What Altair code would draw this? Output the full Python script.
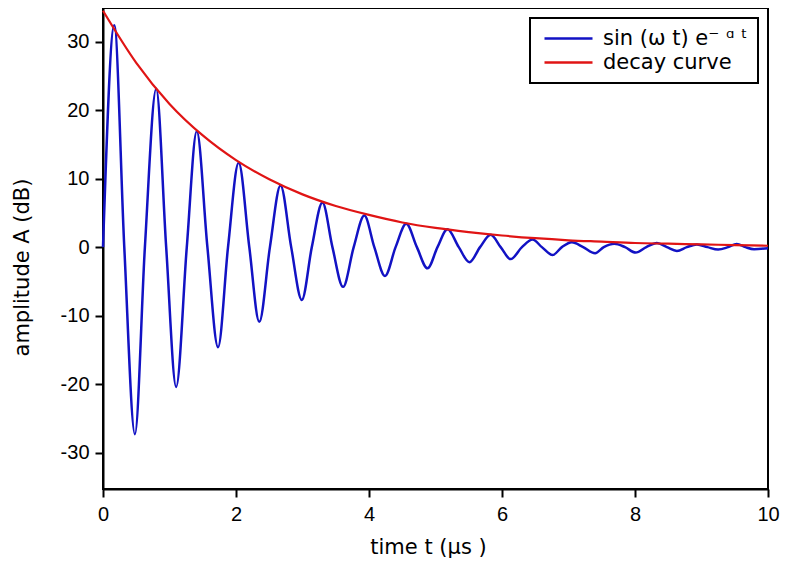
import altair as alt
import pandas as pd

# damped signal: zero crossings and extrema
t_sig = [0.00, 0.17, 0.32, 0.48, 0.63, 0.80, 0.95, 1.10, 1.26, 1.41, 1.57, 1.73,
         1.88, 2.04, 2.20, 2.35, 2.51, 2.67, 2.83, 2.99, 3.14, 3.30, 3.45, 3.61,
         3.77, 3.93, 4.08, 4.24, 4.40, 4.56, 4.72, 4.88, 5.03, 5.18, 5.35, 5.51,
         5.67, 5.83, 5.98, 6.13, 6.30, 6.46, 6.60, 6.76, 6.90, 7.05, 7.22, 7.40,
         7.53, 7.69, 7.85, 8.01, 8.17, 8.33, 8.48, 8.63, 8.78, 8.93, 9.09, 9.25,
         9.40, 9.53, 9.66, 9.79, 10.00]
amp_sig = [0, 32.4, 0, -27.3, 0, 23.1, 0, -20.4, 0, 16.9, 0, -14.6,
           0, 12.3, 0, -10.9, 0, 9.0, 0, -7.7, 0, 6.5, 0, -5.8,
           0, 4.6, 0, -4.2, 0, 3.4, 0, -3.1, 0, 2.6, 0, -2.2,
           0, 1.8, 0, -1.75, 0, 1.1, 0, -1.15, 0, 0.7, 0, -0.9,
           0, 0.5, 0, -0.8, 0, 0.6, 0, -0.55, 0, 0.4, 0, -0.36,
           0, 0.46, 0, -0.3, -0.15]

# envelope
t_decay = [0, 0.5, 1, 1.5, 2, 2.5, 3, 3.5, 4, 4.5, 5, 5.5, 6, 6.5, 7, 7.5,
           8, 8.5, 9, 9.5, 10]
amp_decay = [34.5, 26.9, 20.9, 16.3, 12.7, 9.9, 7.7, 6.0, 4.7, 3.6, 2.8, 2.2,
             1.7, 1.3, 1.0, 0.8, 0.6, 0.5, 0.4, 0.3, 0.2]

series = ["sin (ω t) e⁻ ᵅ ᵗ", "decay curve"]
colors = ["#1212c4", "#e01414"]

sig = pd.DataFrame({"t": t_sig, "A": amp_sig, "series": series[0]})
dec = pd.DataFrame({"t": t_decay, "A": amp_decay, "series": series[1]})

plain_minus = "replace(datum.label, '\u2212', '-')"

x_enc = alt.X(
    "t:Q",
    scale=alt.Scale(domain=[0, 10], nice=False, zero=False),
    axis=alt.Axis(values=[0, 2, 4, 6, 8, 10], title="time t (µs )",
                  titleX=325, titleY=58, titleBaseline="middle",
                  labelPadding=7, labelFlush=False),
)
y_enc = alt.Y(
    "A:Q",
    scale=alt.Scale(domain=[-35.3, 34.9], nice=False, zero=False),
    axis=alt.Axis(values=[-30, -20, -10, 0, 10, 20, 30], title="amplitude  A (dB)",
                  titleX=-81, titleY=259, titleBaseline="middle",
                  titleAlign="center", titleAngle=270, labelPadding=6,
                  labelExpr=plain_minus),
)
# short symbol size keeps the rows tight; the path itself draws a long line
color_enc = alt.Color(
    "series:N",
    scale=alt.Scale(domain=series, range=colors),
    title=None,
    legend=alt.Legend(orient="top-right", offset=10, symbolType="M-4.8,0H4.8",
                      symbolSize=100, symbolStrokeWidth=2.5, symbolOffset=18,
                      labelOffset=24, labelFontSize=21,
                      labelFont="DejaVu Sans", labelColor="black",
                      padding=10, rowPadding=2,
                      strokeColor="black", fillColor="white"),
)

wave = alt.Chart(sig).mark_line(interpolate="monotone", strokeWidth=2.5).encode(
    x=x_enc, y=y_enc, color=color_enc)
decay = alt.Chart(dec).mark_line(interpolate="monotone", strokeWidth=2.2).encode(
    x=x_enc, y=y_enc, color=color_enc)

chart = alt.layer(wave, decay).properties(
    width=665, height=481,
    autosize=alt.AutoSizeParams(type="none"),
    padding={"left": 95, "top": 0, "right": 20, "bottom": 80},
).configure_view(
    stroke="black", strokeWidth=2
).configure_axis(
    grid=False, domainColor="black", domainWidth=2, tickColor="black",
    tickWidth=2, tickSize=8, labelFont="Liberation Sans", labelFontSize=20,
    labelColor="black", titleFont="DejaVu Sans", titleFontSize=21,
    titleFontWeight="normal", titleColor="black",
).configure_legend(strokeWidth=2)

chart.save("out.html", embed_options={"renderer": "svg", "actions": False})
